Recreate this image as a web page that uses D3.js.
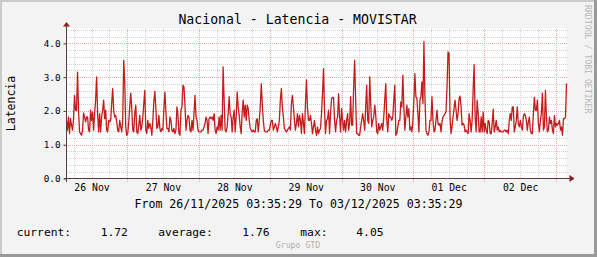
<!DOCTYPE html>
<html>
<head>
<meta charset="utf-8">
<script src="https://cdn.jsdelivr.net/npm/d3@7"></script>
<style>
  html, body { margin: 0; padding: 0; background: #f3f3f3; }
  svg { display: block; font-family: "DejaVu Sans Mono", monospace; }
</style>
</head>
<body>
<svg id="chart" width="597" height="257"></svg>
<script>
const title = "Nacional - Latencia - MOVISTAR";
const yLabel = "Latencia";
const rangeText = "From 26/11/2025 03:35:29 To 03/12/2025 03:35:29";
const startTime = new Date(Date.UTC(2025, 10, 26, 3, 35, 29));
const endTime = new Date(Date.UTC(2025, 11, 3, 3, 35, 29));
const yMajorTicks = [0, 1, 2, 3, 4];
const legendLabels = ["current:", "average:", "max:"];
const legendValues = [1.72, 1.76, 4.05];

// latency samples in time order
const latencia1 = [
  1.72,1.43,1.82,1.33,1.77,1.58,1.43,1.77,2.46,2.02,
  2.02,3.15,2.02,1.38,1.33,1.28,1.43,1.94,1.82,1.68,
  1.82,1.82,1.43,1.38,2.02,1.72,1.97,1.43,1.92,2.32,
  3.01,1.92,1.38,1.92,1.38,1.82,2.02,2.32,1.77,
  2.02,1.43,1.38,1.72,1.68,1.72,2.22,2.66,
  2.02,1.82,1.87,1.68,1.43,1.38,1.72,1.53,1.38,
  1.72,3.50,2.86,1.53,1.28,1.33,1.68,2.12,2.53,2.07,
  1.43,1.38,1.92,2.17,1.38,1.33,1.58,1.87,1.43,
  1.53,1.82,2.22,2.61,1.43,1.33,1.72,1.48,1.63,1.53,
  1.28,1.72,2.27,2.58,2.07,1.48,1.53,1.87,1.48,
  1.38,1.48,1.43,2.07,2.56,1.97,1.48,1.48,1.38,
  1.82,1.72,1.43,1.38,1.48,1.33,1.43,2.12,
  1.87,1.33,1.28,2.02,2.12,2.76,2.71,2.17,1.43,1.72,
  1.87,1.82,1.43
];
const latencia2 = [
  1.38,1.72,1.43,1.92,2.46,1.82,1.72,1.43,1.38,1.38,
  1.38,1.43,1.43,1.53,1.63,1.82,1.72,1.33,1.77,1.82,
  1.77,1.82,1.72,1.92,1.43,1.33,1.53,1.43,1.82,1.43,
  1.87,1.43,3.30,2.32,1.43,1.38,1.53,1.92,2.42,1.92,
  1.82,1.38,1.82,2.02,1.38,1.82,2.56,2.12,1.87,1.53,
  1.33,1.97,2.32,1.82,2.17,1.72,2.17,2.07,1.72,1.48,
  1.43,1.38,1.43,1.38,1.38,1.72,1.77,1.38,1.72,2.12,
  2.81,2.22,1.72,1.43,1.38,1.38,1.38,1.43,1.43,1.58,
  1.72,1.72,1.43,1.53,1.63,1.53,1.38,1.53,1.72,2.32,
  2.66,2.12,1.82,1.48,1.43,1.38,1.43,1.48,1.53,1.43,
  2.22,2.46,2.12,1.72,1.43,1.63,1.92,1.53,1.87,1.72,
  1.33,1.92,1.63,1.33,2.22,2.92,2.12,1.72,1.72,1.87,
  1.63,1.33,1.53,1.72,1.43,1.28,1.53
];
const latencia3 = [
  1.33,1.43,1.48,1.92,2.51,3.25,2.02,1.33,1.72,1.77,
  2.02,1.33,1.92,2.37,2.40,2.40,1.72,1.38,1.72,1.82,
  2.51,1.82,1.38,2.07,1.72,1.43,1.72,1.38,1.72,1.92,
  1.43,1.63,2.42,1.58,1.58,2.71,3.50,2.32,1.33,1.33,
  1.28,1.28,1.53,1.72,1.92,1.72,1.43,2.12,2.76,1.72,
  1.63,3.01,2.22,1.53,1.72,1.82,2.17,1.87,1.38,1.33,
  1.63,1.43,1.53,1.63,1.43,1.82,2.32,2.81,1.72,1.38,
  1.92,1.82,1.82,1.72,1.82,2.32,2.76,1.28,1.33,1.53,
  1.72,1.72,2.27,2.12,3.06,2.12,1.43,1.82,2.17,1.82,
  2.07,1.43,1.53,1.38,1.72,2.32,3.10,2.42,2.37,1.92,
  1.38,2.32,2.42,2.86,2.22,4.05,2.42,1.43,1.33,1.28,
  1.38,1.72,1.72,2.42,1.72,1.38,1.43,1.72,2.02,1.63,
  1.58,1.63,1.38,1.68,1.82,1.87
];
const latencia4 = [
  1.92,1.97,2.71,3.75,3.70,1.82,1.33,1.53,1.82,2.07,
  2.32,2.02,1.72,1.92,2.37,2.44,2.12,1.58,1.63,1.58,
  1.38,1.43,1.38,1.33,1.92,1.72,1.38,1.72,2.61,3.37,
  1.82,1.38,2.32,1.92,1.38,1.38,1.82,1.38,1.97,1.38,
  1.63,1.43,1.33,1.72,1.68,1.33,1.33,1.63,2.05,1.38,
  1.53,1.72,1.43,1.53,1.38,1.43,1.38,1.38,1.38,1.43,
  1.43,1.38,1.43,1.33,1.72,1.92,1.72,2.12,2.12,1.38,
  1.53,1.72,2.12,1.63,1.53,1.72,1.53,1.43,1.82,1.92,
  1.87,1.72,1.43,1.68,1.82,1.43,1.33,1.33,1.92,2.40,
  2.02,2.02,2.32,1.63,1.38,1.72,1.92,2.53,1.43,1.53,
  2.61,1.82,1.38,1.43,1.82,1.63,1.72,1.43,1.33,1.87,
  1.53,1.63,1.58,1.63,1.72,1.43,1.53,1.28,1.77,1.77,
  1.82,2.81
];

const values = latencia1.concat(latencia2, latencia3, latencia4);
const step = (endTime - startTime) / (values.length - 1);
const data = values.map((v, i) => ({ t: new Date(+startTime + i * step), v: v }));

const W = 597, H = 257;
const plotL = 66.5, plotR = 566.5, plotT = 28.5, plotB = 178.5;
const yMax = 4.44;

const svg = d3.select("#chart");

// frame
svg.append("rect").attr("width", W).attr("height", H).attr("fill", "#f3f3f3");
svg.append("path").attr("d", `M1,${H} V1 H${W}`).attr("fill", "none")
  .attr("stroke", "#cbcbcb").attr("stroke-width", 2);
svg.append("path").attr("d", `M0,${H - 1.5} H${W - 1.5} V0`).attr("fill", "none")
  .attr("stroke", "#999").attr("stroke-width", 3);

const x = d3.scaleUtc().domain([startTime, endTime]).range([plotL, plotR]);
const y = d3.scaleLinear().domain([0, yMax]).range([plotB, plotT]);

// canvas
svg.append("rect")
  .attr("x", plotL).attr("y", plotT)
  .attr("width", plotR - plotL).attr("height", plotB - plotT)
  .attr("fill", "#fff");

// grid
const minorY = d3.range(0.2, yMax, 0.2).filter(d => Math.abs(d - Math.round(d)) > 0.01);
const sixHours = x.ticks(d3.utcHour.every(6)).filter(d => d.getUTCHours() !== 0);
const days = x.ticks(d3.utcDay.every(1));
const minorColor = "#d2d2d2", majorColor = "#f5a3a3";

const grid = svg.append("g").attr("shape-rendering", "crispEdges");
grid.selectAll(".hmin").data(minorY).enter().append("line")
  .attr("x1", plotL).attr("x2", plotR + 1)
  .attr("y1", d => Math.round(y(d)) + 0.5).attr("y2", d => Math.round(y(d)) + 0.5)
  .attr("stroke", minorColor).attr("stroke-dasharray", "1,1");
grid.selectAll(".vmin").data(sixHours).enter().append("line")
  .attr("y1", plotT).attr("y2", plotB)
  .attr("x1", d => Math.round(x(d)) + 0.5).attr("x2", d => Math.round(x(d)) + 0.5)
  .attr("stroke", minorColor).attr("stroke-dasharray", "1,1");
grid.selectAll(".hmaj").data(yMajorTicks.slice(1)).enter().append("line")
  .attr("x1", plotL - 3).attr("x2", plotR + 1)
  .attr("y1", d => Math.round(y(d)) + 0.5).attr("y2", d => Math.round(y(d)) + 0.5)
  .attr("stroke", majorColor).attr("stroke-dasharray", "1,1");
grid.selectAll(".vmaj").data(days).enter().append("line")
  .attr("y1", plotT).attr("y2", plotB + 3)
  .attr("x1", d => Math.round(x(d)) + 0.5).attr("x2", d => Math.round(x(d)) + 0.5)
  .attr("stroke", majorColor).attr("stroke-dasharray", "1,1");

// latency line
const line = d3.line().x(d => x(d.t)).y(d => y(d.v));
svg.append("path")
  .datum(data)
  .attr("fill", "none")
  .attr("stroke", "#c41c1c")
  .attr("stroke-width", 1.3)
  .attr("stroke-linejoin", "round")
  .attr("d", line);

// axes
const axisColor = "#5a3c3c";
const yAxis = svg.append("g")
  .attr("transform", `translate(${plotL},0)`)
  .call(d3.axisLeft(y).tickValues(yMajorTicks).tickFormat(d3.format(".1f")).tickSize(3).tickPadding(3));
yAxis.select(".domain").remove();
yAxis.selectAll(".tick line").attr("stroke", axisColor);
yAxis.selectAll("text")
  .attr("font-family", "DejaVu Sans Mono, monospace")
  .attr("font-size", 9.3)
  .attr("fill", "#000");

const noons = days.map(d => d3.utcHour.offset(d, -12)).concat([d3.utcHour.offset(days[days.length - 1], 12)])
  .filter(d => d > startTime && d < endTime);
const xAxis = svg.append("g")
  .attr("transform", `translate(0,${plotB})`)
  .call(d3.axisBottom(x).tickValues(noons).tickFormat(d3.utcFormat("%d %b")).tickSize(0));
xAxis.select(".domain").remove();
xAxis.selectAll("text")
  .attr("y", 12).attr("dy", 0)
  .attr("font-family", "DejaVu Sans Mono, monospace")
  .attr("font-size", 9.8)
  .attr("fill", "#000");

svg.append("line").attr("x1", plotL).attr("x2", plotL).attr("y1", plotB + 3).attr("y2", plotT - 3)
  .attr("stroke", axisColor).attr("shape-rendering", "crispEdges");
svg.append("line").attr("x1", plotL - 3).attr("x2", plotR + 4).attr("y1", plotB).attr("y2", plotB)
  .attr("stroke", axisColor).attr("shape-rendering", "crispEdges");
svg.append("path")
  .attr("d", `M${plotL - 3.5},${plotT - 2} L${plotL + 3.5},${plotT - 2} L${plotL},${plotT - 6.5} Z`)
  .attr("fill", "#8b1c1c");
svg.append("path")
  .attr("d", `M${plotR + 3},${plotB - 3.5} L${plotR + 3},${plotB + 3.5} L${plotR + 8},${plotB} Z`)
  .attr("fill", "#8b1c1c");

// texts
svg.append("text")
  .attr("x", 297.5).attr("y", 23.5)
  .attr("text-anchor", "middle")
  .attr("font-size", 13.2)
  .attr("fill", "#000")
  .text(title);

svg.append("text")
  .attr("transform", `translate(14.5,${(plotT + plotB) / 2}) rotate(-90)`)
  .attr("text-anchor", "middle")
  .attr("font-size", 11.5)
  .attr("fill", "#000")
  .text(yLabel);

svg.append("text")
  .attr("x", 298.5).attr("y", 208)
  .attr("text-anchor", "middle")
  .attr("font-size", 11.6)
  .attr("fill", "#000")
  .text(rangeText);

const legendX = [[16.7, 100.7], [158.3, 242.3], [300.3, 356.3]];
legendLabels.forEach((lab, i) => {
  svg.append("text")
    .attr("x", legendX[i][0]).attr("y", 236)
    .attr("font-size", 11.3).attr("fill", "#000")
    .text(lab);
  svg.append("text")
    .attr("x", legendX[i][1]).attr("y", 236)
    .attr("font-size", 11.3).attr("fill", "#000")
    .text(d3.format(".2f")(legendValues[i]));
});

svg.append("text")
  .attr("x", 298).attr("y", 248)
  .attr("text-anchor", "middle")
  .attr("font-size", 8.2)
  .attr("fill", "#b0b0b0")
  .text("Grupo GTD");

svg.append("text")
  .attr("transform", "translate(584.5,5) rotate(90)")
  .attr("font-size", 8.2)
  .attr("fill", "#b8b8b8")
  .text("RRDTOOL / TOBI OETIKER");
</script>
</body>
</html>
